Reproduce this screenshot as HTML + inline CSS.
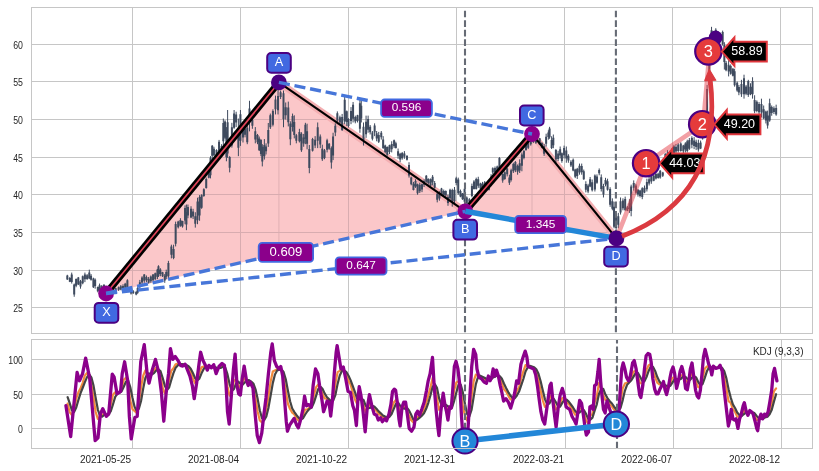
<!DOCTYPE html>
<html lang="en"><head><meta charset="utf-8"><title>Harmonic pattern chart with KDJ</title>
<style>
html,body{margin:0;padding:0;background:#fff;}
body{width:819px;height:471px;overflow:hidden;font-family:"Liberation Sans",Arial,Helvetica,sans-serif;}
svg{display:block;position:absolute;left:0;top:0;}
</style></head><body>
<svg width="819" height="471" viewBox="0 0 819 471" font-family='"Liberation Sans", Arial, Helvetica, sans-serif'>
<rect width="819" height="471" fill="#fff"/>
<defs><clipPath id="ct"><rect x="31.5" y="7.5" width="781.0" height="326.0"/></clipPath><clipPath id="cb"><rect x="31.5" y="339.5" width="781.0" height="109.0"/></clipPath></defs>
<g stroke="#c6c6c6" stroke-width="1" fill="none">
<line x1="31.5" x2="812.5" y1="307.5" y2="307.5"/>
<line x1="31.5" x2="812.5" y1="270.5" y2="270.5"/>
<line x1="31.5" x2="812.5" y1="232.5" y2="232.5"/>
<line x1="31.5" x2="812.5" y1="194.5" y2="194.5"/>
<line x1="31.5" x2="812.5" y1="157.5" y2="157.5"/>
<line x1="31.5" x2="812.5" y1="119.5" y2="119.5"/>
<line x1="31.5" x2="812.5" y1="81.5" y2="81.5"/>
<line x1="31.5" x2="812.5" y1="44.5" y2="44.5"/>
<line x1="132.5" x2="132.5" y1="7.5" y2="333.5"/>
<line x1="240.5" x2="240.5" y1="7.5" y2="333.5"/>
<line x1="348.5" x2="348.5" y1="7.5" y2="333.5"/>
<line x1="456.5" x2="456.5" y1="7.5" y2="333.5"/>
<line x1="564.5" x2="564.5" y1="7.5" y2="333.5"/>
<line x1="672.5" x2="672.5" y1="7.5" y2="333.5"/>
<line x1="780.5" x2="780.5" y1="7.5" y2="333.5"/>
<line x1="31.5" x2="812.5" y1="428.5" y2="428.5"/>
<line x1="31.5" x2="812.5" y1="394.5" y2="394.5"/>
<line x1="31.5" x2="812.5" y1="359.5" y2="359.5"/>
<line x1="132.5" x2="132.5" y1="339.5" y2="448.5"/>
<line x1="240.5" x2="240.5" y1="339.5" y2="448.5"/>
<line x1="348.5" x2="348.5" y1="339.5" y2="448.5"/>
<line x1="456.5" x2="456.5" y1="339.5" y2="448.5"/>
<line x1="565.5" x2="565.5" y1="339.5" y2="448.5"/>
<line x1="673.5" x2="673.5" y1="339.5" y2="448.5"/>
<line x1="781.5" x2="781.5" y1="339.5" y2="448.5"/>
</g>
<g font-size="10" fill="#262626">
<text x="22.9" y="311.5" text-anchor="end" textLength="9.73" lengthAdjust="spacingAndGlyphs">25</text>
<text x="22.9" y="274.5" text-anchor="end" textLength="9.73" lengthAdjust="spacingAndGlyphs">30</text>
<text x="22.9" y="236.5" text-anchor="end" textLength="9.73" lengthAdjust="spacingAndGlyphs">35</text>
<text x="22.9" y="198.5" text-anchor="end" textLength="9.73" lengthAdjust="spacingAndGlyphs">40</text>
<text x="22.9" y="161.5" text-anchor="end" textLength="9.73" lengthAdjust="spacingAndGlyphs">45</text>
<text x="22.9" y="123.5" text-anchor="end" textLength="9.73" lengthAdjust="spacingAndGlyphs">50</text>
<text x="22.9" y="85.5" text-anchor="end" textLength="9.73" lengthAdjust="spacingAndGlyphs">55</text>
<text x="22.9" y="48.5" text-anchor="end" textLength="9.73" lengthAdjust="spacingAndGlyphs">60</text>
<text x="22.9" y="432.5" text-anchor="end" textLength="4.86" lengthAdjust="spacingAndGlyphs">0</text>
<text x="22.9" y="398.5" text-anchor="end" textLength="9.73" lengthAdjust="spacingAndGlyphs">50</text>
<text x="22.9" y="363.5" text-anchor="end" textLength="14.59" lengthAdjust="spacingAndGlyphs">100</text>
<text x="131.1" y="462.5" text-anchor="end">2021-05-25</text>
<text x="239.1" y="462.5" text-anchor="end">2021-08-04</text>
<text x="347.1" y="462.5" text-anchor="end">2021-10-22</text>
<text x="455.1" y="462.5" text-anchor="end">2021-12-31</text>
<text x="564.1" y="462.5" text-anchor="end">2022-03-21</text>
<text x="672.1" y="462.5" text-anchor="end">2022-06-07</text>
<text x="780.1" y="462.5" text-anchor="end">2022-08-12</text>
<text x="803.5" y="355.3" text-anchor="end">KDJ (9,3,3)</text>
</g>
<g clip-path="url(#ct)">
<polygon points="106.1,293.5 278.9,82.4 465.3,211.3" fill="#fbc7c9" />
<polygon points="465.3,211.3 532,134 616.4,238.4" fill="#fbc7c9" />
<line x1="278.9" y1="82.4" x2="278.9" y2="253.96" stroke="#d9a9ae" stroke-width="0.8" />
<line x1="532" y1="134" x2="532" y2="223.26" stroke="#d9a9ae" stroke-width="0.8" />
<g stroke="#d8acb0" stroke-width="1">
<line x1="124.93" x2="206.61" y1="270.5" y2="270.5"/>
<line x1="156.03" x2="372.66" y1="232.5" y2="232.5"/>
<line x1="187.14" x2="441.01" y1="194.5" y2="194.5"/>
<line x1="217.43" x2="387.5" y1="157.5" y2="157.5"/>
<line x1="248.53" x2="332.55" y1="119.5" y2="119.5"/>
<line x1="132.5" x2="132.5" y1="261.25" y2="287.46"/>
<line x1="240.5" x2="240.5" y1="129.31" y2="262.74"/>
<line x1="348.5" x2="348.5" y1="130.53" y2="238.03"/>
<line x1="456.5" x2="456.5" y1="205.21" y2="213.31"/>
<line x1="583.5" x2="611.63" y1="232.5" y2="232.5"/>
<line x1="479.8" x2="580.91" y1="194.5" y2="194.5"/>
<line x1="511.72" x2="551" y1="157.5" y2="157.5"/>
<line x1="564.5" x2="564.5" y1="174.2" y2="229.09"/>
</g>
<line x1="278.9" y1="82.4" x2="465.3" y2="211.3" stroke="#f4afb2" stroke-width="7" />
<line x1="532" y1="134" x2="616.4" y2="238.4" stroke="#f4afb2" stroke-width="7" />
<path d="M67.33 274.78V279.91M69.82 276.98V282.11M71.72 272.58V283.57M74.21 283.57V296.76M76.12 278.44V287.23M78.32 276.98V285.04M80.51 279.91V288.7M82.71 275.51V284.3M84.91 272.58V282.11M87.11 274.05V279.91M89.3 269.65V279.18M91.06 274.05V280.64M93.41 277.71V287.97M95.16 278.44V288.7M97.8 286.5V292.36M99.56 283.57V291.63M101.76 285.04V291.63M103.96 284.3V290.16M106.15 288.7V293.1M108.35 289.43V293.83M110.55 290.16V293.83M113.04 289.43V292.8M115.68 287.97V291.63M118.61 286.5V290.9M120.81 285.04V290.16M123 284.3V290.16M125.2 282.84V289.43M127.4 279.18V290.16M128.86 287.23V291.63M131.06 289.43V294.56M133.26 290.16V293.83M136.19 290.9V295.29M137.66 286.5V293.83M139.85 279.91V288.7M142.05 276.25V284.3M144.25 274.05V282.84M146.45 275.51V282.11M148.64 276.98V283.57M150.84 275.51V282.84M153.04 274.05V281.37M155.24 272.58V279.91M157.44 268.92V279.18M158.46 265.26V276.98M160.37 268.19V276.25M162.56 271.85V276.98M164.76 274.05V282.84M166.23 269.65V279.18M168.42 260.86V279.18M171.37 244.7V258.38M173.59 244.7V259.23M175.64 221.62V246.41M178.21 220.77V228.46M180.43 218.21V226.75M182.48 220.77V227.61M185.04 205.38V224.19M186.41 204.53V230.17M187.95 204.53V218.21M191.03 206.24V218.21M193.08 208.8V219.06M195.3 212.22V227.61M197.52 197.69V224.19M199.57 195.13V220.77M201.62 194.27V208.8M203.85 188.29V196.84M206.24 177.52V188.63M208.8 169.83V178.38M210.51 156.15V178.38M212.22 145.04V159.57M213.93 146.75V156.15M216.5 149.32V156.15M219.06 139.91V152.74M221.62 144.19V151.03M223.33 118.55V145.9M225.04 120.26V139.06M226.41 127.09V161.28M227.61 110V157.86M229.66 156.15V172.39M231.88 122.82V147.61M234.1 110V128.8M236.15 111.71V127.09M238.38 118.55V156.15M240.43 110V145.9M242.99 121.97V142.48M245.04 127.09V137.35M247.26 125.38V144.19M249.49 100.77V131.37M252.39 116.84V128.8M255.3 127.09V143.33M257.52 133.93V144.19M259.23 136.5V151.03M260.94 139.06V156.15M262.31 144.19V166.41M264.36 139.06V159.57M266.07 143.33V154.44M268.29 122.99V146.92M270.34 113.59V128.97M272.91 109.32V126.41M275.47 95.64V114.44M278.03 89.66V114.44M280.6 90.51V99.06M283.5 90.51V127.26M285.73 102.48V119.57M288.29 101.62V126.41M290.34 121.28V145.21M292.56 113.59V131.54M294.27 115.3V138.38M296.32 133.93V143.33M299.4 128.8V142.48M301.45 132.22V151.88M303.68 133.93V146.75M305.38 122.82V144.19M307.09 123.68V149.32M309.32 145.04V173.25M312.56 137.86V151.54M315.13 136.15V148.12M317.69 122.48V148.12M320.26 134.44V148.12M322.31 144.7V160.94M324.53 148.97V159.23M327.09 138.72V152.39M329.15 142.99V149.83M331.37 146.41V168.63M333.08 132.74V160.09M335.3 123.33V136.15M337.35 111.37V124.19M339.91 115.64V124.19M342.14 113.93V131.03M344.7 95.13V124.19M346.75 110.51V125.9M348.46 118.21V127.61M351.03 107.09V124.19M353.08 101.97V122.48M355.3 115.64V123.33M357.52 114.79V122.48M359.91 99.4V132.74M361.28 100.26V122.48M363.5 122.48V145.56M366.07 115.64V137.86M368.12 115.64V132.74M370.17 125.04V134.44M372.39 131.03V140.43M374.62 123.33V136.15M376.67 131.03V141.28M378.72 131.88V142.99M381.28 131.03V139.57M383.16 136.15V148.97M385.21 144.7V153.25M387.26 146.41V155.81M389.49 144.7V154.1M391.71 141.28V152.39M394.1 139.57V148.12M395.85 141.71V148.55M398.08 148.55V158.8M400.13 152.82V162.22M402.18 151.97V159.66M404.4 151.11V158.8M406.97 155.38V160.51M409.02 162.22V177.61M411.24 176.75V185.3M413.46 181.88V190.43M415.51 179.32V187.86M417.56 183.59V194.7M419.79 182.74V192.99M422.01 183.59V192.14M424.06 179.32V187.01M426.28 175.04V182.74M428.33 178.46V184.44M430.56 178.46V186.15M432.61 175.04V185.3M434.66 181.03V188.72M437.22 192.99V202.39M439.44 191.28V200.68M441.5 187.86V195.56M443.72 189.57V196.41M445.77 190.43V197.26M447.99 194.7V205.81M450.04 188.72V201.54M452.26 188.72V206.67M454.49 187.01V203.25M456.2 176.75V185.3M458.25 177.61V194.7M460.47 189.57V197.26M462.52 192.99V199.83M464.57 187.86V203.25M466.79 196.41V204.1M469.36 198.12V202.39M471.92 183.59V197.26M473.97 180.17V189.57M476.2 177.61V189.57M478.25 176.75V187.86M480.47 182.74V189.57M482.52 181.88V187.86M484.74 181.03V186.15M486.97 183.59V188.72M489.02 186.15V190.43M491.07 174.19V186.15M492.78 167.35V174.19M495 166.5V173.33M497.22 165.64V171.62M499.44 157.09V169.91M502.69 173.33V182.74M504.79 171.28V179.83M507.18 167.86V176.41M509.4 174.7V184.96M511.11 168.72V181.54M513.33 162.74V172.99M515.38 161.03V172.14M517.61 164.44V174.7M519.66 159.32V172.99M521.88 152.48V171.28M523.93 149.91V159.32M525.98 144.79V150.77M528.21 142.22V149.06M530.77 137.09V145.64M533.33 134.53V143.08M535.9 136.24V143.93M539.66 137.95V144.79M541.88 142.22V148.21M544.1 143.93V155.9M546.15 133.68V146.5M548.38 130.26V139.66M549.57 126.84V138.8M551.62 136.24V149.06M553.33 134.53V148.21M555.9 149.06V162.74M558.12 150.77V161.03M560.17 146.5V158.46M561.88 152.48V162.74M564.1 145.64V158.46M566.32 146.5V162.74M568.38 154.19V162.74M570.94 160.17V167.01M573.16 158.46V171.28M575.21 168.72V178.12M577.26 167.86V178.97M579.49 163.59V174.7M581.71 163.59V174.7M583.76 169.57V179.83M585.85 181.24V192.35M588.08 183.8V193.21M590.13 176.97V187.22M592.18 179.53V191.5M594.91 174.4V191.5M596.97 174.4V183.8M599.19 168.42V175.26M601.24 174.4V191.5M603.46 183.8V197.48M605.51 177.82V186.37M607.56 178.68V190.64M610.13 187.22V206.88M612.35 198.33V210.3M614.06 201.75V228.25M616.11 212.86V229.96M618.33 212.86V228.25M620.56 197.48V214.57M622.95 198.33V210.3M625.17 196.62V211.15M627.39 206.03V211.15M629.44 199.19V212.86M631.15 184.66V216.28M633.72 180.38V190.64M635.94 183.8V194.06M637.99 188.93V196.62M640.04 189.79V197.48M642.26 187.22V199.19M644.49 185.51V193.21M646.88 178.68V191.5M649.1 176.97V185.51M651.32 175.26V183.8M653.72 174.4V181.24M655.94 173.55V179.53M658.16 172.69V178.68M660.21 170.13V178.68M662.78 171.84V176.97M665.38 153.38V161.92M667.61 149.96V158.5M669.66 150.81V160.21M671.88 148.25V156.79M673.93 144.83V155.09M675.98 143.97V153.38M678.21 143.12V152.52M680.77 142.26V151.67M683.33 144.83V153.38M685.38 142.26V152.52M687.26 139.7V152.52M689.32 137.99V149.96M691.88 136.28V148.25M694.1 137.14V149.1M696.15 139.7V149.96M698.38 139.7V151.67M700.6 140.56V149.1M702.65 131.11V139.66M704.87 115.73V132.82M707.09 84.96V117.44M709.32 45.64V88.38M711.54 26.84V47.35M713.59 31.11V37.09M715.81 28.21V33.68M718.03 31.97V37.09M720.43 32.82V38.8M722.65 30.6V45.64M724.36 42.22V69.57M726.07 61.03V71.28M728.63 60.17V76.41M730.68 64.44V74.7M732.91 67.86V76.41M734.62 68.72V86.67M737.18 81.54V91.79M738.89 84.96V95.21M741.45 79.83V96.92M744.02 74.7V98.63M746.07 84.96V95.21M748.29 79.83V96.92M750.51 83.25V95.21M752.56 77.26V98.63M754.62 95.26V113.21M756.84 100.38V112.35M759.06 102.09V114.06M761.45 98.68V117.48M763.68 105.51V119.19M765.9 110.64V123.46M767.61 110.64V128.59M769.66 98.68V121.75M771.71 105.51V115.77M773.93 106.37V114.06M776.15 104.66V115.77" stroke="#3e4a5e" stroke-width="1" fill="none"/>
<path d="M67.33 275.45V279.46M69.82 278.07V281.76M71.72 274.6V282.02M74.21 284.42V294.43M76.12 278.97V285.84M78.32 277.52V284.45M80.51 281.28V286.44M82.71 276.22V283.37M84.91 274.55V279.37M87.11 275.19V279.03M89.3 272.45V278.59M91.06 275.79V279.83M93.41 278.59V287.15M95.16 279.75V286.09M97.8 287.06V291.22M99.56 285.26V290.48M101.76 286.27V291.2M103.96 284.68V289.57M106.15 289.67V292.41M108.35 290V292.96M110.55 290.76V293.37M113.04 290.27V292.04M115.68 288.37V290.92M118.61 287.3V289.72M120.81 286.23V289.54M123 286.03V289.7M125.2 283.86V287.85M127.4 280.14V288.27M128.86 287.5V290.68M131.06 290.67V293.57M133.26 291.15V293.36M136.19 291.88V294.42M137.66 287.93V292.63M139.85 282.19V286.18M142.05 277.6V282.56M144.25 274.62V280.86M146.45 276.91V280.14M148.64 278.66V282.77M150.84 276.59V281.25M153.04 274.46V280.16M155.24 273.26V279.33M157.44 269.58V276.69M158.46 266.22V275.67M160.37 269.38V274.09M162.56 272.21V276.15M164.76 275.69V280.46M166.23 272.08V276.64M168.42 263.05V276.36M171.37 246.61V254.67M173.59 248.91V257.96M175.64 223.96V243.73M178.21 221.6V227.14M180.43 219.89V225.76M182.48 221.12V226.55M185.04 208.06V220.59M186.41 211.92V224.46M187.95 206.98V215.41M191.03 208.86V217.45M193.08 211.62V216.55M195.3 216.35V223.77M197.52 201.62V220.22M199.57 197.07V215.42M201.62 195.23V207.83M203.85 189.16V196.06M206.24 179.02V187.93M208.8 170.26V177.63M210.51 157.83V175.24M212.22 145.86V155.67M213.93 148.67V155.33M216.5 150.09V155.22M219.06 141.72V151.7M221.62 145.98V148.99M223.33 123.1V141.22M225.04 121.6V137.64M226.41 131.73V157.31M227.61 122.31V153.54M229.66 157.06V167.72M231.88 127.33V145.46M234.1 113.49V127.74M236.15 114.51V122.56M238.38 128.54V147.73M240.43 114.14V140.81M242.99 123.85V137.49M245.04 128.97V134.84M247.26 127.87V142.2M249.49 108.51V122.3M252.39 119.99V125.79M255.3 131.23V139.52M257.52 135.03V142.35M259.23 138.51V150.19M260.94 140.03V154.11M262.31 146.74V161.45M264.36 144.99V156.25M266.07 146.49V151.14M268.29 129.9V143.54M270.34 115.21V127.33M272.91 111.01V124.68M275.47 99.51V109.27M278.03 96.11V110.23M280.6 92.34V96.92M283.5 93.13V119.36M285.73 107.22V115.37M288.29 107.51V122.21M290.34 123.55V139.3M292.56 115.98V127.05M294.27 122.06V134.94M296.32 135.35V140.64M299.4 131.97V141.21M301.45 133.83V150.15M303.68 137.47V143.53M305.38 124.67V138.7M307.09 131.24V143.82M309.32 148.92V167.97M312.56 138.99V150.81M315.13 139.66V145.58M317.69 127.14V140.85M320.26 136.61V144.46M322.31 148.87V159.27M324.53 150.13V157.97M327.09 140.22V149.7M329.15 143.78V148.77M331.37 148.25V162.47M333.08 136.52V155.59M335.3 125.84V132.61M337.35 113.36V120.61M339.91 117.14V122.62M342.14 117.02V130.09M344.7 99.78V121.4M346.75 111.3V122.05M348.46 119.08V126.02M351.03 111.05V120.96M353.08 104.66V118.79M355.3 117.09V121.44M357.52 115.37V121.02M359.91 103.14V128.76M361.28 105.66V118.55M363.5 126.87V140.02M366.07 121.82V134.29M368.12 119.11V129.72M370.17 126.72V132.35M372.39 132.56V138.7M374.62 125.51V132.5M376.67 133.33V138.52M378.72 135.05V141.71M381.28 132.65V137.13M383.16 139.49V147.89M385.21 145.39V151.88M387.26 147.05V154.78M389.49 145.34V152.06M391.71 144.02V149.35M394.1 140.33V146.16M395.85 143.18V147.96M398.08 151.32V155.81M400.13 153.81V159.51M402.18 153.12V158.34M404.4 153.4V156.82M406.97 155.85V159.7M409.02 164.97V175.53M411.24 177.6V184.19M413.46 183.85V189.96M415.51 180.93V186.49M417.56 184.2V193.22M419.79 184.85V191.17M422.01 184.15V189.6M424.06 181.22V184.76M426.28 175.63V181.84M428.33 178.82V182.98M430.56 179.37V185.52M432.61 176.64V182.45M434.66 182.99V187.84M437.22 193.81V199.76M439.44 193.09V198.57M441.5 188.42V195.06M443.72 191.09V195.34M445.77 190.89V195.32M447.99 197.02V203.03M450.04 189.63V198.15M452.26 189.91V201.9M454.49 189.66V201.06M456.2 178.36V182.89M458.25 179.61V193.29M460.47 190.97V196.42M462.52 193.52V199.21M464.57 188.83V201.7M466.79 197.39V203.13M469.36 199.14V201.87M471.92 185.98V195.97M473.97 181.46V189.06M476.2 178.95V188.93M478.25 179.34V185.78M480.47 183.4V188.42M482.52 183.58V187.41M484.74 182.33V185.34M486.97 184.48V187.39M489.02 186.79V189.67M491.07 176.84V182.62M492.78 168.28V172.42M495 168.05V171.9M497.22 166.55V170.8M499.44 157.91V168.86M502.69 173.97V180.52M504.79 172.26V179.05M507.18 168.47V174.19M509.4 177.45V182.73M511.11 170.26V180.12M513.33 164V171.3M515.38 162.02V170.34M517.61 165.63V171.72M519.66 163.33V170.44M521.88 154.57V165.8M523.93 151.11V158.01M525.98 145.09V149.9M528.21 143.38V147.86M530.77 137.95V144.14M533.33 134.97V142.09M535.9 136.8V142.78M539.66 138.36V144.41M541.88 142.98V147.56M544.1 146.28V153.72M546.15 136.72V143.75M548.38 132.41V137.12M549.57 128.6V137.23M551.62 140.04V147.94M553.33 137.69V145.32M555.9 149.89V159.2M558.12 153.57V158.9M560.17 149.29V155.43M561.88 153.35V160.88M564.1 147.9V155.14M566.32 150.57V158.57M568.38 155.86V160.4M570.94 161.68V165.48M573.16 159.84V170.54M575.21 169.5V176.8M577.26 168.71V176.1M579.49 165.7V172.4M581.71 165.88V172.25M583.76 171.34V179.31M585.85 184.01V189.72M588.08 185.46V191.48M590.13 179.17V186.54M592.18 182.33V190.14M594.91 175.57V189.51M596.97 176.59V182.85M599.19 170.03V173.25M601.24 177.37V189.01M603.46 186.12V194.46M605.51 179.89V184.62M607.56 181.2V189.81M610.13 188.93V204.65M612.35 201.15V208.79M614.06 206.84V226.84M616.11 213.98V227.95M618.33 216.22V224.82M620.56 201.22V212.47M622.95 200.48V208.31M625.17 199.04V210M627.39 207.43V210.64M629.44 203.22V208.98M631.15 186.38V211.07M633.72 183V187.65M635.94 185.47V192.86M637.99 189.72V194.42M640.04 190.58V195.98M642.26 188.24V197.02M644.49 187.73V192.57M646.88 181.95V189.22M649.1 179.29V183.58M651.32 176.18V181.46M653.72 175.57V180.85M655.94 173.85V178.5M658.16 173.67V177.92M660.21 170.86V177.51M662.78 172.5V175.63M665.38 153.81V159.89M667.61 152.18V157.82M669.66 153.46V158.07M671.88 150.6V155.75M673.93 146.3V153.57M675.98 146.79V151.52M678.21 144.44V151.05M680.77 143.38V151.08M683.33 145.47V151.17M685.38 143.51V149.61M687.26 141.14V151.03M689.32 140.12V148.79M691.88 138V144.79M694.1 140.38V146.08M696.15 141.83V147.1M698.38 143.11V149.43M700.6 142.52V148.57M702.65 133.1V138.27M704.87 119.8V129.21M707.09 88.91V115.41M709.32 57.68V84.88M711.54 30.28V44.56M713.59 31.86V35.69M715.81 29.81V33.05M718.03 33.06V36.45M720.43 33.95V37.91M722.65 31.98V44.28M724.36 45.01V62.01M726.07 62.81V70.21M728.63 64.66V71.55M730.68 66.11V73.83M732.91 68.7V75.79M734.62 71.15V85.36M737.18 82.66V90.62M738.89 86.93V92.43M741.45 83.89V94.3M744.02 78.37V94.3M746.07 86.44V93.83M748.29 80.95V94.88M750.51 86.74V94.24M752.56 81.02V94.2M754.62 100.03V111.34M756.84 101.79V111.01M759.06 103.89V112.13M761.45 104.1V112.55M763.68 109.18V118.43M765.9 111.39V120.55M767.61 115.56V125.57M769.66 103.22V120.6M771.71 107.03V112.88M773.93 108.34V112.03M776.15 107.91V114.52" stroke="#3e4a5e" stroke-width="2" fill="none"/>
<line x1="465" x2="465" y1="333.5" y2="7.5" stroke="#666b75" stroke-width="2.1" stroke-dasharray="6.66 2.88" stroke-dashoffset="8.2"/>
<line x1="615.9" x2="615.9" y1="333.5" y2="7.5" stroke="#666b75" stroke-width="2.1" stroke-dasharray="6.66 2.88" stroke-dashoffset="8.2"/>
<line x1="106.1" y1="293.5" x2="278.9" y2="82.4" stroke="#000" stroke-width="6.8" stroke-linecap="butt"/>
<line x1="106.1" y1="293.5" x2="278.9" y2="82.4" stroke="#e2455a" stroke-width="1.6" />
<line x1="278.9" y1="82.4" x2="465.3" y2="211.3" stroke="#000" stroke-width="2.1" />
<line x1="465.3" y1="211.3" x2="532" y2="134" stroke="#000" stroke-width="6.8" stroke-linecap="butt"/>
<line x1="465.3" y1="211.3" x2="532" y2="134" stroke="#e2455a" stroke-width="1.6" />
<line x1="532" y1="134" x2="616.4" y2="238.4" stroke="#000" stroke-width="2.1" />
<polyline points="616.4,238.4 646.1,163.2 703.2,124.2 709.6,51.4" fill="none" stroke="#e5414b" stroke-opacity="0.5" stroke-width="4.6" stroke-linejoin="round"/>
<circle cx="106.1" cy="293.5" r="7.9" fill="#8b008b"/>
<circle cx="278.9" cy="82.4" r="7.9" fill="#4b0082"/>
<circle cx="465.3" cy="211.3" r="7.9" fill="#8b008b"/>
<circle cx="532" cy="134" r="7.9" fill="#8b008b"/>
<circle cx="715.6" cy="37.6" r="7.0" fill="#4b0082"/>
<line x1="465.3" y1="211.3" x2="616.4" y2="238.4" stroke="#2387d8" stroke-width="5.5" stroke-linecap="butt"/>
<line x1="106.1" y1="293.5" x2="465.3" y2="211.3" stroke="#4776d9" stroke-width="3.4" stroke-dasharray="11.1 4.8"/>
<line x1="106.1" y1="293.5" x2="616.4" y2="238.4" stroke="#4776d9" stroke-width="3.4" stroke-dasharray="11.1 4.8"/>
<line x1="278.9" y1="82.4" x2="532" y2="134" stroke="#4776d9" stroke-width="3.4" stroke-dasharray="11.1 4.8"/>
<circle cx="616.4" cy="238.4" r="7.9" fill="#4b0082"/>
<rect x="94.7" y="302.9" width="23.6" height="19.8" rx="4" ry="4" fill="#4169e1" stroke="#4b0082" stroke-width="2"/>
<text x="106.5" y="316.2" font-size="12.7" fill="#fff" text-anchor="middle" >X</text>
<rect x="267.2" y="53" width="23.6" height="19.8" rx="4" ry="4" fill="#4169e1" stroke="#4b0082" stroke-width="2"/>
<text x="279" y="66.3" font-size="12.7" fill="#fff" text-anchor="middle" >A</text>
<rect x="453.4" y="219.8" width="23.6" height="19.8" rx="4" ry="4" fill="#4169e1" stroke="#4b0082" stroke-width="2"/>
<text x="465.2" y="233.1" font-size="12.7" fill="#fff" text-anchor="middle" >B</text>
<rect x="520" y="105.6" width="23.6" height="19.8" rx="4" ry="4" fill="#4169e1" stroke="#4b0082" stroke-width="2"/>
<text x="531.8" y="118.9" font-size="12.7" fill="#fff" text-anchor="middle" >C</text>
<rect x="604.2" y="246.7" width="23.6" height="19.8" rx="4" ry="4" fill="#4169e1" stroke="#4b0082" stroke-width="2"/>
<text x="616" y="260" font-size="12.7" fill="#fff" text-anchor="middle" >D</text>
<rect x="381.1" y="99.5" width="50.800000000000004" height="17.4" rx="3.5" ry="3.5" fill="#8b008b" stroke="#4169e1" stroke-width="1.8"/>
<text x="406.5" y="111.22" font-size="11.8" fill="#fff" text-anchor="middle" >0.596</text>
<rect x="258.7" y="242.9" width="54.400000000000006" height="19.0" rx="3.5" ry="3.5" fill="#8b008b" stroke="#4169e1" stroke-width="1.8"/>
<text x="285.9" y="255.89" font-size="13.1" fill="#fff" text-anchor="middle" >0.609</text>
<rect x="335.7" y="257.3" width="50.800000000000004" height="17.4" rx="3.5" ry="3.5" fill="#8b008b" stroke="#4169e1" stroke-width="1.8"/>
<text x="361.1" y="269.02" font-size="11.8" fill="#fff" text-anchor="middle" >0.647</text>
<rect x="515.2" y="215.8" width="50.800000000000004" height="17.4" rx="3.5" ry="3.5" fill="#8b008b" stroke="#4169e1" stroke-width="1.8"/>
<text x="540.6" y="227.52" font-size="11.8" fill="#fff" text-anchor="middle" >1.345</text>
<circle cx="646.1" cy="163.2" r="13.2" fill="#e53b3b" stroke="#4b0082" stroke-width="2.2"/>
<text x="646.1" y="169" font-size="16.4" fill="#fff" text-anchor="middle" >1</text>
<polygon points="659.6,163.3 672.2,149 672.2,153.4 703.8,153.4 703.8,173.2 672.2,173.2 672.2,177.6" fill="#000" stroke="#e0363c" stroke-width="2" stroke-linejoin="miter"/>
<text x="684.8" y="166.9" font-size="12.5" fill="#fff" text-anchor="middle" >44.03</text>
<circle cx="702.2" cy="124.2" r="13.2" fill="#e53b3b" stroke="#4b0082" stroke-width="2.2"/>
<text x="702.2" y="130" font-size="16.4" fill="#fff" text-anchor="middle" >2</text>
<path d="M621.99 236.23Q724.35 196.5 710.1 78.2" fill="none" stroke="#db3a40" stroke-width="4.7"/>
<polygon points="709.3,69.6 704.8,80.6 715.8,80.2" fill="#db3a40" stroke="#db3a40" stroke-width="1.2" stroke-linejoin="round"/>
<polygon points="714.2,124.3 726.8,110 726.8,114.4 760.4,114.4 760.4,134.2 726.8,134.2 726.8,138.6" fill="#000" stroke="#e0363c" stroke-width="2" stroke-linejoin="miter"/>
<text x="739.4" y="127.9" font-size="12.5" fill="#fff" text-anchor="middle" >49.20</text>
<circle cx="708.4" cy="51.4" r="13.2" fill="#e53b3b" stroke="#4b0082" stroke-width="2.2"/>
<text x="708.4" y="57.2" font-size="16.4" fill="#fff" text-anchor="middle" >3</text>
<polygon points="721.8,51.6 734.4,37.3 734.4,41.7 766.8,41.7 766.8,61.5 734.4,61.5 734.4,65.9" fill="#000" stroke="#e0363c" stroke-width="2" stroke-linejoin="miter"/>
<text x="747" y="55.2" font-size="12.5" fill="#fff" text-anchor="middle" >58.89</text>
</g>
<g clip-path="url(#cb)">
<polyline points="67.6,403.64 69.76,412.41 71.92,414.99 74.08,408.97 76.24,398.73 78.4,392.34 80.56,388.13 82.72,382.79 84.88,375.43 87.04,373.11 89.2,374.98 91.36,384.05 93.52,397.72 95.68,411.97 97.84,419.02 100,416.49 102.16,414.47 104.32,414.04 106.48,415.1 108.64,414.35 110.8,404.31 112.96,394.72 115.12,392.36 117.28,393.58 119.44,392.64 121.6,387.67 123.76,379.8 125.92,377.77 128.08,383.16 130.24,400.34 132.4,409.04 134.56,410.89 136.72,412.82 138.88,402.74 141.04,387.47 143.2,375.73 145.36,370.47 147.52,374.17 149.68,375.83 151.84,373.5 154,370.21 156.16,367.72 158.32,369.77 160.48,375.85 162.64,387.69 164.8,393.44 166.96,388.74 169.12,380.35 171.28,370.8 173.44,368.32 175.6,364.23 177.76,363.66 179.92,364.11 182.08,364.73 184.24,364.63 186.4,365.76 188.56,368.37 190.72,372.25 192.88,378.5 195.04,383.07 197.2,379.75 199.36,372.85 201.52,367.32 203.68,366.58 205.84,366.74 208,367.28 210.16,366.81 212.32,366.79 214.48,367.11 216.64,369.25 218.8,367.64 220.96,366.77 223.12,365.96 225.28,370.39 227.44,386.25 229.6,395.56 231.76,390.59 233.92,380.97 236.08,378.99 238.24,384.97 240.4,387.43 242.56,382.03 244.72,378.21 246.88,380.83 249.04,381.44 251.2,382.48 253.36,386.58 255.52,399 257.68,411.72 259.84,420.55 262,422.52 264.16,417.66 266.32,409.19 268.48,396.15 270.64,381.67 272.8,371.56 274.96,370.39 277.12,369.24 279.28,369.33 281.44,369.51 283.6,377.15 285.76,391.14 287.92,403.77 290.08,409.01 292.24,412.72 294.4,414.43 296.56,418.44 298.72,420.82 300.88,419.12 303.04,414.95 305.2,409.49 307.36,409.27 309.52,407.61 311.68,405.61 313.84,395.45 316,387.41 318.16,384.67 320.32,387.84 322.48,393.84 324.64,398.47 326.8,398.69 328.96,400.12 331.12,404.9 333.28,396.24 335.44,383.4 337.6,372.1 339.76,370.84 341.92,370.03 344.08,370.56 346.24,375.09 348.4,380.88 350.56,384.38 352.72,392.31 354.88,399.19 357.04,403.78 359.2,395.32 361.36,399.1 363.52,405.32 365.68,412.43 367.84,407.07 370,404.33 372.16,406.21 374.32,409.08 376.48,410.89 378.64,414.14 380.8,414.89 382.96,417.26 385.12,417.45 387.28,417.98 389.44,415.15 391.6,408.97 393.76,402.5 395.92,400.03 398.08,405.06 400.24,412.18 402.4,407.48 404.56,406.56 406.72,408.35 408.88,415.46 411.04,419.92 413.2,422.29 415.36,419.51 417.52,416.78 419.68,416.63 421.84,413.48 424,409.76 426.16,403.3 428.32,395.32 430.48,387.24 432.64,377.92 434.8,387.34 436.96,397.97 439.12,409.87 441.28,405.69 443.44,402.26 445.6,405.61 447.76,410.38 449.92,407.65 452.08,404.32 454.24,389.84 456.4,382.38 458.56,381.1 460.72,390.44 462.88,406.29 465.04,416.09 467.2,420.55 469.36,412.84 471.52,396.62 473.68,381.08 475.84,374.57 478,375.96 480.16,376.44 482.32,377.7 484.48,379.26 486.64,380.22 488.8,378.68 490.96,379.18 493.12,374.66 495.28,375.8 497.44,374.35 499.6,378.15 501.76,383.03 503.92,389.2 506.08,391.57 508.24,395.4 510.4,399.45 512.56,399.23 514.72,396.54 516.88,390.69 519.04,387.46 521.2,378.02 523.36,371.45 525.52,365.08 527.68,366.21 529.84,366.35 532,367.09 534.16,368.18 536.32,372.47 538.48,380.42 540.64,390.76 542.8,400.34 544.96,406.98 547.12,404.72 549.28,399.18 551.44,395.24 553.6,401.35 555.76,409.5 557.92,407.48 560.08,402.97 562.24,398.11 564.4,398.71 566.56,402.21 568.72,404.01 570.88,407.33 573.04,411 575.2,414.74 577.36,414.17 579.52,408.82 581.68,408.33 583.84,412.89 586,420.29 588.16,423.36 590.32,415.34 592.48,414.27 594.64,402.34 596.8,396.41 598.96,383.13 601.12,388.41 603.28,395.2 605.44,399.97 607.6,399.84 609.76,403.96 611.92,406.68 614.08,409.45 616.24,411.54 618.4,411.38 620.56,400.57 622.72,388.38 624.88,383.58 627.04,382.66 629.2,381.29 631.36,376.89 633.52,371.6 635.68,371.11 637.84,375.79 640,382.97 642.16,383.73 644.32,377.75 646.48,369.88 648.64,365.2 650.8,364.35 652.96,371.06 655.12,377.42 657.28,382.66 659.44,384.44 661.6,384.59 663.76,383.86 665.92,387.83 668.08,387.02 670.24,382.85 672.4,377.91 674.56,377.33 676.72,381.98 678.88,379.13 681.04,375.47 683.2,374.95 685.36,380.07 687.52,382.2 689.68,378.31 691.84,373.12 694,376.87 696.16,382.44 698.32,387.31 700.48,386.62 702.64,378.11 704.8,368.83 706.96,366.35 709.12,366.54 711.28,369.03 713.44,367.05 715.6,368.12 717.76,367.7 719.92,366.9 722.08,368.84 724.24,377.62 726.4,388.62 728.56,401.21 730.72,402.95 732.88,409.16 735.04,411.84 737.2,416.62 739.36,416.76 741.52,415.07 743.68,410.98 745.84,411.63 748,412.91 750.16,411.63 752.32,412.55 754.48,415.11 756.64,419.94 758.8,419.69 760.96,417.4 763.12,418.18 765.28,416.52 767.44,415.69 769.6,410.6 771.76,403 773.92,391.34 776.08,388.36" fill="none" stroke="#f28a3c" stroke-width="2.2" stroke-linejoin="round" stroke-linecap="round"/>
<polyline points="67.6,397.21 69.76,403.35 71.92,410.35 74.08,412.12 76.24,407.56 78.4,400.01 80.56,393.06 82.72,387.75 84.88,382.11 87.04,377.11 89.2,374.51 91.36,377.38 93.52,385.58 95.68,397.91 97.84,409.57 100,415.83 102.16,416.66 104.32,415 106.48,414.54 108.64,414.5 110.8,411.25 112.96,404.46 115.12,397.13 117.28,393.55 119.44,392.86 121.6,391.3 123.76,386.7 125.92,381.75 128.08,380.24 130.24,387.09 132.4,397.52 134.56,406.76 136.72,410.92 138.88,408.81 141.04,401.01 143.2,388.65 145.36,377.89 147.52,373.46 149.68,373.49 151.84,374.5 154,373.18 156.16,370.48 158.32,369.23 160.48,371.11 162.64,377.77 164.8,385.66 166.96,389.96 169.12,387.51 171.28,379.96 173.44,373.16 175.6,367.79 177.76,365.41 179.92,364 182.08,364.17 184.24,364.49 186.4,365.04 188.56,366.25 190.72,368.79 192.88,373.04 195.04,377.94 197.2,380.44 199.36,378.55 201.52,373.31 203.68,368.91 205.84,366.88 208,366.87 210.16,366.94 212.32,366.96 214.48,366.9 216.64,367.72 218.8,368 220.96,367.89 223.12,366.79 225.28,367.71 227.44,374.2 229.6,384.06 231.76,390.8 233.92,389.04 236.08,383.52 238.24,381.64 240.4,383.8 242.56,384.81 244.72,382.56 246.88,380.36 249.04,380.16 251.2,381.58 253.36,383.5 255.52,389.35 257.68,399.1 259.84,410.42 262,418.26 264.16,420.24 266.32,416.45 268.48,407.67 270.64,395.67 272.8,383.13 274.96,374.54 277.12,370.4 279.28,369.65 281.44,369.36 283.6,372 285.76,379.27 287.92,390.69 290.08,401.3 292.24,408.5 294.4,412.05 296.56,415.2 298.72,417.9 300.88,419.46 303.04,418.3 305.2,414.52 307.36,411.24 309.52,408.79 311.68,407.5 313.84,402.89 316,396.16 318.16,389.18 320.32,386.64 322.48,388.78 324.64,393.38 326.8,397 328.96,399.09 331.12,401.24 333.28,400.42 335.44,394.85 337.6,383.91 339.76,375.44 341.92,370.99 344.08,370.48 346.24,371.9 348.4,375.51 350.56,380.12 352.72,385.86 354.88,391.96 357.04,398.43 359.2,399.43 361.36,399.4 363.52,399.91 365.68,405.61 367.84,408.27 370,407.94 372.16,405.87 374.32,406.54 376.48,408.73 378.64,411.37 380.8,413.31 382.96,415.43 385.12,416.53 387.28,417.57 389.44,416.86 391.6,414.03 393.76,408.87 395.92,403.83 398.08,402.53 400.24,405.76 402.4,408.24 404.56,408.74 406.72,407.46 408.88,410.12 411.04,414.57 413.2,419.22 415.36,420.57 417.52,419.53 419.68,417.64 421.84,415.63 424,413.29 426.16,408.84 428.32,402.79 430.48,395.29 432.64,386.83 434.8,384.17 436.96,387.74 439.12,398.39 441.28,404.51 443.44,405.94 445.6,404.52 447.76,406.09 449.92,407.88 452.08,407.45 454.24,400.6 456.4,392.18 458.56,384.44 460.72,384.64 462.88,392.61 465.04,404.27 467.2,414.31 469.36,416.49 471.52,410 473.68,396.84 475.84,384.09 478,377.2 480.16,375.66 482.32,376.7 484.48,377.8 486.64,379.06 488.8,379.39 490.96,379.36 493.12,377.51 495.28,376.55 497.44,374.94 499.6,376.1 501.76,378.51 503.92,383.46 506.08,387.93 508.24,392.05 510.4,395.47 512.56,398.03 514.72,398.41 516.88,395.49 519.04,391.56 521.2,385.39 523.36,378.98 525.52,371.52 527.68,367.58 529.84,365.88 532,366.55 534.16,367.21 536.32,369.25 538.48,373.69 540.64,381.21 542.8,390.5 544.96,399.36 547.12,404.01 549.28,403.62 551.44,399.71 553.6,398.59 555.76,402.03 557.92,406.11 560.08,406.65 562.24,402.85 564.4,399.93 566.56,399.68 568.72,401.65 570.88,404.52 573.04,407.45 575.2,411.02 577.36,413.3 579.52,412.58 581.68,410.44 583.84,410.01 586,413.84 588.16,418.85 590.32,419.66 592.48,417.66 594.64,410.65 596.8,404.34 598.96,393.96 601.12,389.32 603.28,388.91 605.44,394.53 607.6,398.34 609.76,401.26 611.92,403.5 614.08,406.7 616.24,409.23 618.4,410.79 620.56,407.83 622.72,400.11 624.88,390.85 627.04,384.87 629.2,382.51 631.36,380.28 633.52,376.59 635.68,373.2 637.84,372.83 640,376.62 642.16,380.83 644.32,381.48 646.48,377.12 648.64,370.94 650.8,366.48 652.96,366.87 655.12,370.94 657.28,377.05 659.44,381.51 661.6,383.9 663.76,384.3 665.92,385.43 668.08,386.24 670.24,385.9 672.4,382.59 674.56,379.36 676.72,379.07 678.88,379.48 681.04,378.86 683.2,376.52 685.36,376.83 687.52,379.07 689.68,380.2 691.84,377.88 694,376.1 696.16,377.48 698.32,382.21 700.48,385.46 702.64,384.01 704.8,377.86 706.96,371.1 709.12,367.24 711.28,367.3 713.44,367.54 715.6,368.07 717.76,367.63 719.92,367.58 722.08,367.81 724.24,371.12 726.4,378.36 728.56,389.15 730.72,397.59 732.88,404.44 735.04,407.98 737.2,412.54 739.36,415.07 741.52,416.15 743.68,414.27 745.84,412.56 748,411.84 750.16,412.06 752.32,412.37 754.48,413.1 756.64,415.87 758.8,418.25 760.96,419.01 763.12,418.42 765.28,417.36 767.44,416.79 769.6,414.27 771.76,409.76 773.92,401.64 776.08,394.23" fill="none" stroke="#444444" stroke-width="2.2" stroke-linejoin="round" stroke-linecap="round"/>
<polyline points="65.94,405.7 70.69,436.57 77.1,372.44 79.48,380.76 82.57,373.63 85.65,358.19 89.69,378.38 95.15,440.61 98,437.76 100.38,414.01 102.76,408.78 106.32,416.38 108.69,414.01 112.26,374.1 114.16,377.19 117.01,393.82 120.57,391.44 122.23,373.63 124.61,361.75 127.7,380.76 129.36,416.38 131.26,438.95 134.82,417.57 137.2,416.38 140.76,361.75 144.28,344.66 147.13,373.67 149.04,383.18 151.89,371.29 155.46,359.4 159.02,373.67 161.4,392.7 163.78,421.23 166.16,392.7 168.54,373.67 170.44,348.7 172.82,359.4 175.2,356.55 178.05,360.59 180.43,365.35 182.81,366.06 185.18,364.16 187.56,370.1 189.94,376.05 192.32,385.56 194.22,398.64 196.6,383.18 198.98,364.16 200.64,352.27 203.02,360.59 205.4,365.35 207.3,370.1 208.97,365.35 211.34,367.73 213.72,364.63 216.1,373.67 218.95,366.54 222.05,363.45 224.42,365.35 226.09,385.56 227.51,411.72 229.18,424.09 231.56,392.7 233.46,368.92 235.12,354.17 237.03,385.56 238.69,393.89 240.36,395.07 242.26,378.43 244.16,366.06 246.54,380.81 248.2,385.56 250.11,382 252.96,387.94 255.34,416.48 257.24,435.5 259.38,442.64 261.76,433.12 263.66,416.48 266.04,397.45 268.42,373.67 270.8,352.27 272.22,343.95 274.36,360.59 276.74,366.54 279.12,368.92 280.78,366.54 282.69,376.05 284.59,399.83 286.25,421.23 287.44,431.22 289.82,424.8 292.2,421.23 294.1,418.38 296.48,424.8 298.38,427.89 300.52,420.05 302.9,409.34 304.57,396.26 306.47,405.78 308.85,404.59 311.22,406.97 313.13,385.56 315.51,368.92 317.88,373.67 319.55,385.56 321.9,399.83 323.57,411.72 325.23,406.97 327.13,401.02 329.04,402.21 330.7,416 332.37,401.02 334.27,373.67 336.17,352.27 337.12,345.61 339.02,357.02 340.93,368.92 343.31,367.01 345.68,378.43 348.06,391.51 350.44,392.22 352.82,405.78 354.48,410.53 356.39,425.51 358.05,397.45 359.24,386.75 360.9,395.07 362.81,409.34 365.18,431.94 367.09,409.34 369.46,394.6 371.84,405.78 374.22,414.1 376.6,415.29 378.26,420.05 380.64,417.67 382.31,421.71 384.68,418.86 386.59,420.76 388.97,414.1 390.87,404.59 392.53,391.51 394.2,389.13 395.62,390.32 397.29,402.21 398.95,418.86 400.14,425.99 402.05,406.97 403.71,402.21 405.61,402.21 407.28,414.1 409.18,428.37 411.56,431.22 413.94,427.18 415.84,414.1 417.5,411.25 419.41,415.29 421.78,409.34 424.16,402.21 426.54,390.32 428.2,380.81 430.11,373.67 432.49,357.5 434.15,385.56 436.05,409.34 437.72,425.99 438.91,435.5 440.81,411.72 443.19,393.17 444.85,404.59 446.52,411.72 447.94,420.05 449.61,406.97 451.27,408.15 452.7,390.32 454.36,366.54 456.03,361.31 457.93,368.92 459.83,385.56 461.5,416.48 462.69,433.12 465.07,439.78 467.92,430.75 469.82,397.45 471.72,366.54 473.63,349.41 475.77,354.65 476.96,368.92 478.86,377.24 481.71,378.9 484.09,382 486.47,383.18 488.37,376.05 490.04,380.81 491.7,377.24 493.13,368.92 494.79,376.05 496.46,370.1 498.36,376.05 500.26,385.56 501.9,392.7 503.57,401.02 505.95,398.64 508.32,402.21 510.7,408.15 513.08,399.83 514.74,392.7 516.65,380.81 518.55,383.18 520.93,364.16 523.31,356.55 525.21,351.08 526.87,357.02 528.06,366.54 530.92,367.73 533.77,368.92 535.67,374.86 537.57,386.75 539.24,399.83 540.9,411.72 542.81,420.05 544.71,424.09 546.37,411.72 548.28,397.45 549.94,385.56 551.13,383.18 552.79,399.83 554.7,416.48 556.12,427.18 558.26,406.97 560.17,395.07 562.31,388.42 564.21,395.07 566.11,406.97 567.78,408.15 569.68,409.34 572.06,416.48 574.2,420.05 576.1,424.09 578,411.72 579.67,400.31 581.57,403.4 583.23,414.1 585.14,428.37 586.33,435.03 588.47,431.94 589.89,406.97 591.8,405.78 593.22,409.34 594.65,385.56 596.31,384.37 597.98,371.29 599.17,359.4 600.59,380.81 601.78,393.89 603.45,409.34 605.11,412.91 607.02,401.02 608.92,406.97 610.58,411.72 612.96,414.1 616.05,416.48 618.91,411.72 620.1,392.7 621.76,368.92 623.19,362.97 624.85,368.92 626.52,377.24 628.42,380.81 630.32,376.05 631.99,366.54 632.57,362.97 634.23,360.59 636.13,368.92 638.04,383.18 639.7,395.07 640.89,397.45 642.79,385.56 644.46,368.92 646.12,355.84 648.02,353.46 649.69,354.17 651.12,361.78 652.78,378.43 654.68,389.13 656.35,393.89 658.01,393.89 659.92,389.13 661.82,385.56 663.48,381.52 665.15,390.32 666.57,394.6 668.24,387.94 669.9,378.43 671.33,371.29 673,367.01 674.66,373.67 676.56,388.42 678.46,380.81 680.13,371.29 681.79,366.54 683.7,373.67 685.6,388.42 687.26,389.84 688.93,380.81 690.36,368.92 692.02,362.97 693.68,376.05 695.59,390.32 697.25,396.26 698.68,397.93 700.34,390.32 702.01,373.67 703.44,357.02 705.1,349.41 707,357.02 708.67,364.16 710.33,367.73 711.76,374.86 713.42,366.06 715.8,368.44 718.18,367.73 720.08,365.35 722.22,371.29 723.65,385.56 725.31,399.83 726.98,414.1 728.41,425.99 730.07,418.86 731.26,409.34 732.92,418.86 734.35,420.05 736.02,418.86 737.92,428.37 739.58,418.86 741.25,414.1 743.15,405.78 744.34,402.68 746,410.53 747.91,415.29 749.81,410.53 751.47,411.72 753.14,414.1 755.04,421.23 756.71,428.37 757.66,430.75 759.32,418.86 760.99,414.1 762.65,418.86 764.55,414.1 766.46,416 768.12,411.72 769.78,402.21 771.69,390.32 773.11,373.67 774.54,368.44 775.97,376.05 776.92,380.81" fill="none" stroke="#8b008b" stroke-width="3.3" stroke-linejoin="round" stroke-linecap="round"/>
<line x1="465" x2="465" y1="448.5" y2="339.5" stroke="#666b75" stroke-width="2.1" stroke-dasharray="6.66 2.88"/>
<line x1="617" x2="617" y1="448.5" y2="339.5" stroke="#666b75" stroke-width="2.1" stroke-dasharray="6.66 2.88"/>
</g>
<line x1="465" y1="441" x2="616.4" y2="424" stroke="#2387d8" stroke-width="5.6" />
<circle cx="465" cy="441" r="12.6" fill="#2387d8" stroke="#4b0082" stroke-width="2"/>
<text x="465" y="446.7" font-size="16.2" fill="#fff" text-anchor="middle" >B</text>
<circle cx="616.4" cy="424" r="12.6" fill="#2387d8" stroke="#4b0082" stroke-width="2"/>
<text x="616.4" y="429.7" font-size="16.2" fill="#fff" text-anchor="middle" >D</text>
<g stroke="#c6c6c6" stroke-width="1" fill="none">
<rect x="31.5" y="7.5" width="781.0" height="326.0"/>
<rect x="31.5" y="339.5" width="781.0" height="109.0"/>
</g>
</svg>
</body></html>
